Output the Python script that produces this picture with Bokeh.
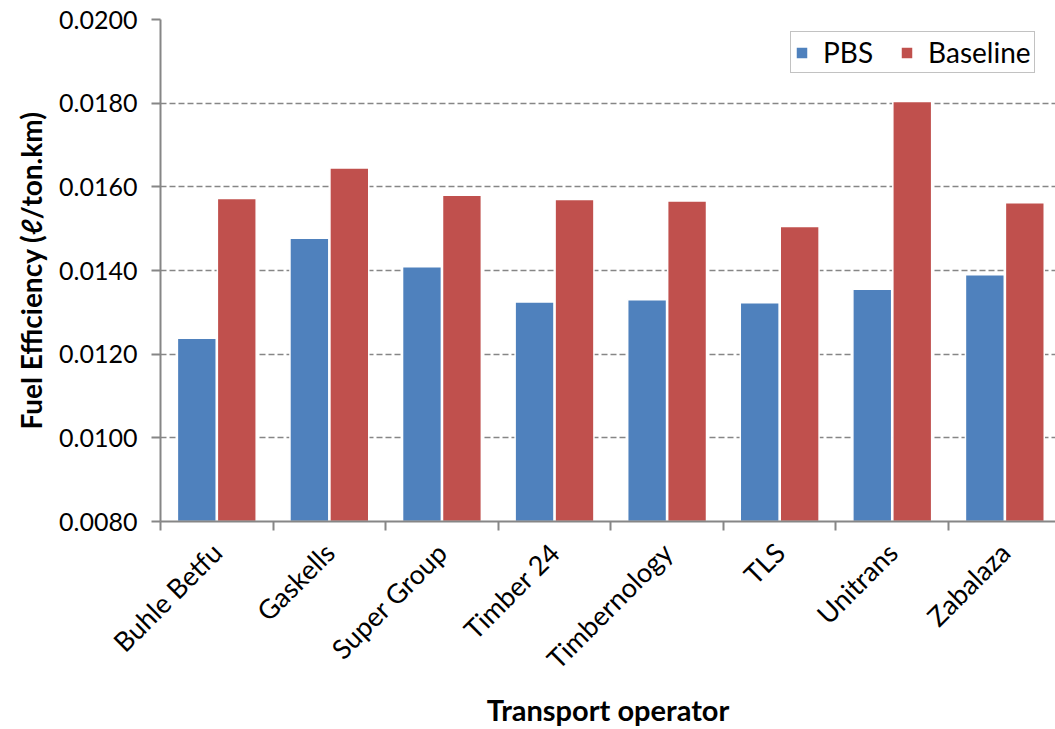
import math
from bokeh.plotting import figure
from bokeh.models import (ColumnDataSource, Range1d, FixedTicker, PrintfTickFormatter,
                          Legend, LegendItem)
from bokeh.embed import file_html
from bokeh.resources import INLINE

# ---- data ----
operators = ["Buhle Betfu", "Gaskells", "Super Group", "Timber 24",
             "Timbernology", "TLS", "Unitrans", "Zabalaza"]
pbs = [0.01238, 0.01477, 0.01409, 0.01325, 0.01330, 0.01323, 0.01355, 0.01390]
baseline = [0.01572, 0.01645, 0.01580, 0.01570, 0.01566, 0.01505, 0.01804, 0.01562]
y_ticks = [0.008, 0.010, 0.012, 0.014, 0.016, 0.018, 0.020]

FONT = "Lato"
BLUE = "#4F81BD"
RED = "#C0504D"
GRAY = "#868686"

n = len(operators)
centers = [i + 0.5 for i in range(n)]
bar_w = 0.345
off = 0.1775

src = ColumnDataSource(dict(
    xb=[c - off for c in centers],
    xr=[c + off for c in centers],
    pbs=pbs,
    base=baseline,
))

p = figure(width=1055, height=729, output_backend="svg", toolbar_location=None,
           x_range=Range1d(0, 7.95), y_range=Range1d(y_ticks[0], y_ticks[-1]),
           min_border_left=160, min_border_right=0, min_border_top=19,
           min_border_bottom=208)
p.outline_line_color = None
p.background_fill_color = "white"
p.border_fill_color = "white"

r_pbs = p.vbar(x="xb", top="pbs", bottom=y_ticks[0], width=bar_w, source=src,
               fill_color=BLUE, line_color="white", line_width=1.5)
r_base = p.vbar(x="xr", top="base", bottom=y_ticks[0], width=bar_w, source=src,
                fill_color=RED, line_color="white", line_width=1.5)

# y axis
yax = p.yaxis[0]
yax.ticker = FixedTicker(ticks=y_ticks)
yax.formatter = PrintfTickFormatter(format="%.4f")
yax.axis_line_color = GRAY
yax.axis_line_width = 2
yax.major_tick_line_color = GRAY
yax.major_tick_line_width = 2
yax.major_tick_out = 9
yax.major_tick_in = 0
yax.minor_tick_line_color = None
yax.major_label_text_font = FONT
yax.major_label_text_font_size = "25px"
yax.major_label_text_color = "black"
yax.major_label_standoff = 14
yax.axis_label = "Fuel Efficiency (\u2113/ton.km)"
yax.axis_label_text_font = FONT
yax.axis_label_text_font_style = "bold"
yax.axis_label_text_font_size = "28px"
yax.axis_label_text_color = "black"
yax.axis_label_standoff = 8

# x axis: labels at category centres, ticks at category boundaries
xax = p.xaxis[0]
xax.ticker = FixedTicker(ticks=centers, minor_ticks=list(range(n + 1)))
xax.major_label_overrides = {c: name for c, name in zip(centers, operators)}
xax.major_label_orientation = math.pi / 4
xax.major_tick_line_color = None
xax.major_tick_out = 0
xax.major_tick_in = 0
xax.minor_tick_line_color = GRAY
xax.minor_tick_line_width = 2
xax.minor_tick_out = 9
xax.minor_tick_in = 0
xax.axis_line_color = GRAY
xax.axis_line_width = 2
xax.major_label_text_font = FONT
xax.major_label_text_font_size = "27px"
xax.major_label_text_color = "black"
xax.major_label_standoff = 17
xax.axis_label = "Transport operator"
xax.axis_label_text_font = FONT
xax.axis_label_text_font_style = "bold"
xax.axis_label_text_font_size = "29px"
xax.axis_label_text_color = "black"
xax.axis_label_standoff = 2

# grid
p.xgrid.grid_line_color = None
p.ygrid.ticker = FixedTicker(ticks=y_ticks)
p.ygrid.grid_line_color = GRAY
p.ygrid.grid_line_width = 1.5
p.ygrid.grid_line_dash = "6 3"

# legend
legend = Legend(items=[LegendItem(label="PBS", renderers=[r_pbs]),
                       LegendItem(label="Baseline", renderers=[r_base])],
                orientation="horizontal")
legend.margin = 0
legend.location = (630, 448)
legend.border_line_color = GRAY
legend.border_line_width = 1.5
legend.background_fill_color = "white"
legend.background_fill_alpha = 1
legend.label_text_font = FONT
legend.label_text_font_size = "28px"
legend.label_text_color = "black"
legend.label_text_baseline = "middle"
legend.glyph_width = 15
legend.glyph_height = 15
legend.padding = 3
legend.spacing = 26
legend.label_standoff = 14
legend.label_height = 24
p.add_layout(legend, "center")

open("out.html", "w").write(file_html(p, INLINE))
